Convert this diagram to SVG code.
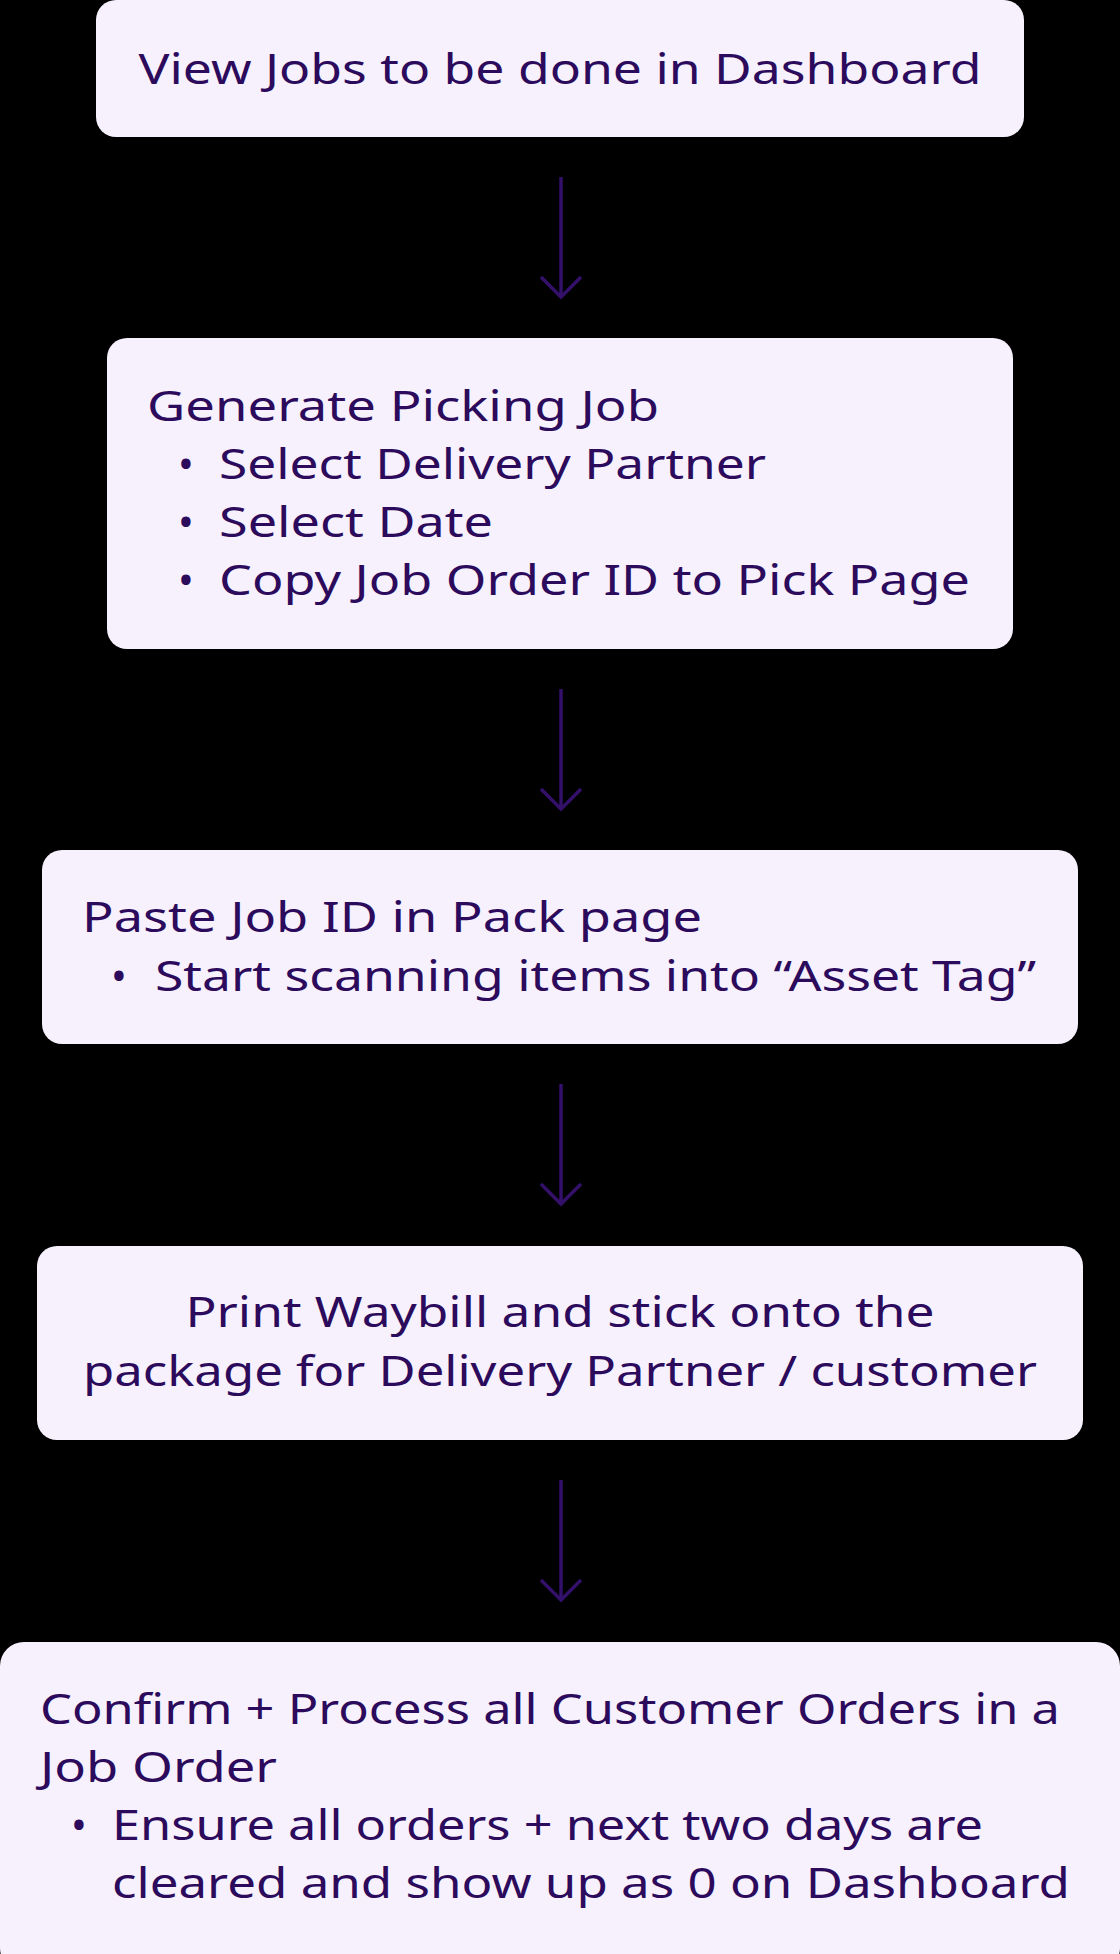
<svg xmlns="http://www.w3.org/2000/svg" width="1120" height="1954" viewBox="0 0 1120 1954">
<style>
.b{fill:#f6f1fd}
.t{font-family:"Noto Sans","Open Sans",sans-serif;font-size:42px;fill:#2c0a5c}
.c{fill:none;stroke:#33106a;stroke-width:3.5}
</style>
<rect width="1120" height="1954" fill="#000"/>
<g id="n1"><rect class="b" x="96" y="0" width="928" height="137" rx="20"/>
<text class="t" x="560" y="84" text-anchor="middle" textLength="843" lengthAdjust="spacingAndGlyphs">View Jobs to be done in Dashboard</text></g>
<g id="n2"><rect class="b" x="107" y="338" width="906" height="311" rx="20"/>
<text class="t" x="147" y="421" textLength="512" lengthAdjust="spacingAndGlyphs">Generate Picking Job</text>
<text class="t" x="178" y="479">•</text><text class="t" x="219" y="479" textLength="547" lengthAdjust="spacingAndGlyphs">Select Delivery Partner</text>
<text class="t" x="178" y="537">•</text><text class="t" x="219" y="537" textLength="274" lengthAdjust="spacingAndGlyphs">Select Date</text>
<text class="t" x="178" y="595">•</text><text class="t" x="219" y="595" textLength="751" lengthAdjust="spacingAndGlyphs">Copy Job Order ID to Pick Page</text></g>
<g id="n3"><rect class="b" x="42" y="850" width="1036" height="194" rx="20"/>
<text class="t" x="82" y="932" textLength="620" lengthAdjust="spacingAndGlyphs">Paste Job ID in Pack page</text>
<text class="t" x="111" y="991">•</text><text class="t" x="155" y="991" textLength="881" lengthAdjust="spacingAndGlyphs">Start scanning items into “Asset Tag”</text></g>
<g id="n4"><rect class="b" x="37" y="1246" width="1046" height="194" rx="20"/>
<text class="t" x="560" y="1327" text-anchor="middle" textLength="749" lengthAdjust="spacingAndGlyphs">Print Waybill and stick onto the</text>
<text class="t" x="560" y="1386" text-anchor="middle" textLength="954" lengthAdjust="spacingAndGlyphs">package for Delivery Partner / customer</text></g>
<g id="n5"><rect class="b" x="0" y="1642" width="1120" height="330" rx="24"/>
<text class="t" x="40" y="1724" textLength="1020" lengthAdjust="spacingAndGlyphs">Confirm + Process all Customer Orders in a</text>
<text class="t" x="40" y="1782" textLength="237" lengthAdjust="spacingAndGlyphs">Job Order</text>
<text class="t" x="71" y="1840">•</text><text class="t" x="112" y="1840" textLength="871" lengthAdjust="spacingAndGlyphs">Ensure all orders + next two days are</text>
<text class="t" x="112" y="1898" textLength="958" lengthAdjust="spacingAndGlyphs">cleared and show up as 0 on Dashboard</text></g>
<g id="connectors">
<path class="c" d="M561 177V297M541 277L561 297L581 277"/>
<path class="c" d="M561 689V809M541 789L561 809L581 789"/>
<path class="c" d="M561 1084V1204M541 1184L561 1204L581 1184"/>
<path class="c" d="M561 1480V1600M541 1580L561 1600L581 1580"/>
</g>
</svg>
